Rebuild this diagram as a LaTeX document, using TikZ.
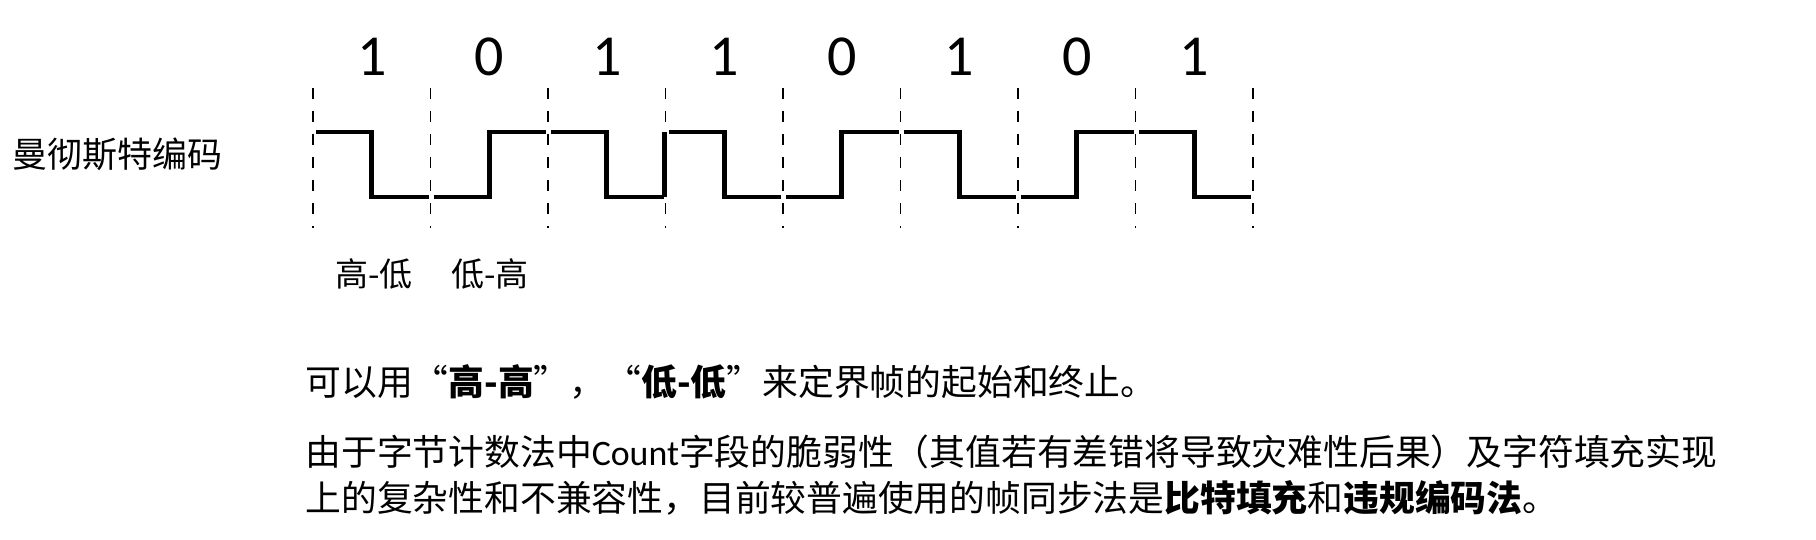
\documentclass[tikz,border=0pt]{standalone}
\usepackage{fontspec}
\setmainfont{Carlito}
\newfontfamily\cjk{Noto Sans CJK SC}

\tikzset{
  wave/.style={line width=2.4pt},
  divider/.style={line width=0.9pt, dash pattern=on 5.5pt off 6pt},
  bitlabel/.style={font=\fontsize{29}{32}\selectfont},
  pairlabel/.style={font=\cjk\fontsize{16.5}{19}\selectfont},
  textline/.style={anchor=west, inner sep=0pt, font=\cjk\fontsize{17.9}{21}\selectfont}
}

\begin{document}
\begin{tikzpicture}[x=0.5pt, y=-0.5pt]
  \useasboundingbox (0,0) rectangle (1816,540);

  % bit boundaries
  \foreach \i in {0,...,8} {
    \draw[divider] ({313+117.5*\i}, 88) -- ({313+117.5*\i}, 228);
  }

  % each bit: 1 = high-low, 0 = low-high
  \foreach \b [count=\i from 0] in {1,0,1,1,0,1,0,1} {
    \node[bitlabel] (bit\i) at ({371.75+117.5*\i}, 57) {\b};
    \ifnum\b=1
      \draw[wave] ({316+117.5*\i}, 132) -| ({371.75+117.5*\i}, 197) -- ({428.5+117.5*\i}, 197);
    \else
      \draw[wave] ({316+117.5*\i}, 197) -| ({371.75+117.5*\i}, 132) -- ({428.5+117.5*\i}, 132);
    \fi
  }
  % 1 after 1: the edge sits on the boundary
  \draw[wave] (664.5, 197) -- (664.5, 132);

  \node[anchor=west, inner sep=0pt, font=\cjk\fontsize{17.5}{20}\selectfont] (name) at (12, 154) {曼彻斯特编码};
  \node[pairlabel] (hl) at (374, 274) {高-低};
  \node[pairlabel] (lh) at (490, 274) {低-高};

  \node[textline] (line1) at (305, 382) {可以用“\textbf{高-高}”，“\textbf{低-低}”来定界帧的起始和终止。};
  \node[textline] (line2) at (305, 452) {由于字节计数法中{\rmfamily Count}字段的脆弱性（其值若有差错将导致灾难性后果）及字符填充实现};
  \node[textline] (line3) at (305, 498) {上的复杂性和不兼容性，目前较普遍使用的帧同步法是\textbf{比特填充}和\textbf{违规编码法}。};
\end{tikzpicture}
\end{document}
